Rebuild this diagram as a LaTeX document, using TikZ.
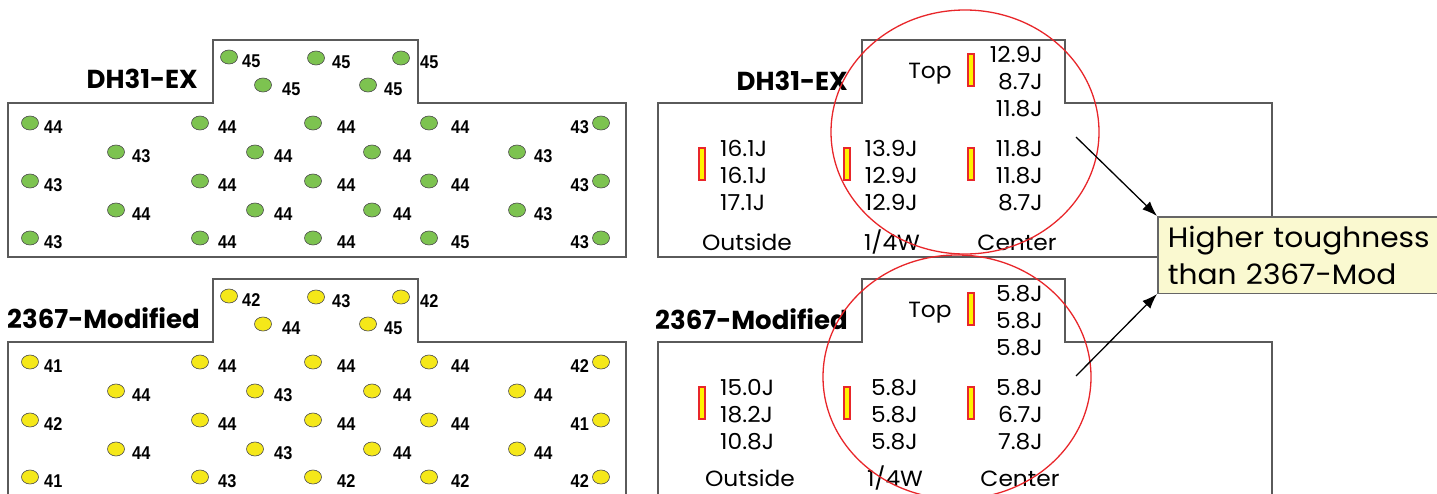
\documentclass[tikz,border=0pt]{standalone}
\usepackage{fontspec}
\setmainfont{Poppins}
\newfontfamily\numfont[FakeStretch=0.88]{Liberation Sans}
\newfontfamily\valfont[FakeStretch=1.06]{Poppins}
\usetikzlibrary{shapes.geometric,arrows.meta}
\definecolor{dotgreen}{RGB}{125,195,80}
\definecolor{dotyellow}{RGB}{245,232,25}
\definecolor{ringred}{RGB}{232,38,42}
\definecolor{notefill}{RGB}{250,249,208}
\definecolor{edgegray}{RGB}{90,90,90}
\begin{document}
\begin{tikzpicture}
    [
    x=1pt, y=-1pt,
    panel/.style={draw=edgegray, line width=1.1pt},
    spot/.style={ellipse, draw=black!70, line width=0.6pt, inner sep=0pt, minimum width=17pt, minimum height=14pt},
    num/.style={inner sep=0pt, font=\numfont\bfseries\fontsize{18.5}{18.5}\selectfont, anchor=base west},
    title/.style={inner sep=0pt, font=\bfseries\fontsize{26}{26}\selectfont, anchor=base east},
    val/.style={inner sep=0pt, font=\valfont\fontsize{22}{22}\selectfont},
    bar/.style={rectangle, draw=ringred, fill=yellow, line width=1.2pt, inner sep=0pt, minimum width=6pt, minimum height=32pt},
    ring/.style={draw=ringred, line width=1.3pt},
    note/.style={rectangle, draw=black!60, line width=1.5pt, fill=notefill, align=left, text width=300pt, inner xsep=10pt, inner ysep=9pt, font=\valfont\fontsize{28}{37}\selectfont},
    pointer/.style={line width=1.3pt, -{Latex[length=15pt,width=11pt]}}
    ]
    \useasboundingbox (0,0) rectangle (1437,493);
    \clip (0,0) rectangle (1437,493);

    % left: test plate maps
    \draw [panel] (8,257) -- (8,103) -- (213,103) -- (213,40) -- (418,40) -- (418,103) -- (626,103) -- (626,257) -- cycle;
    \draw [panel] (8,500) -- (8,342) -- (213,342) -- (213,279) -- (418,279) -- (418,342) -- (626,342) -- (626,500);
    \node [title] (ldh) at (198,88) {DH31-EX};
    \node [title] (lmod) at (200,328) {2367-Modified};

    \foreach \n/\px/\py/\lx/\v in {1/229/57/242/45, 2/316/58/332/45, 3/401/58/420/45, 4/263/85/282/45, 5/368/85/384/45,
      6/30/123/44/44, 7/200/123/218/44, 8/313/123/337/44, 9/429/123/451/44,
      10/116/152/132/43, 11/255/152/274/44, 12/372/152/393/44, 13/517/152/534/43,
      14/30/181/44/43, 15/200/181/218/44, 16/313/181/337/44, 17/429/181/451/44,
      18/116/210/132/44, 19/255/210/274/44, 20/372/210/393/44, 21/517/210/534/43,
      22/30/238/44/43, 23/200/238/218/44, 24/313/238/337/44, 25/429/238/451/45}
    {
      \node [spot, fill=dotgreen] (g\n) at (\px,\py) {};
      \node [num] (g\n v) at (\lx,\py+10) {\v};
    }
    \foreach \n/\py/\v in {26/123/43, 27/181/43, 28/238/43}
    {
      \node [spot, fill=dotgreen] (g\n) at (601,\py) {};
      \node [num, anchor=base east] (g\n v) at (589,\py+10) {\v};
    }

    \foreach \n/\px/\py/\lx/\v in {1/229/296/242/42, 2/316/297/332/43, 3/401/297/420/42, 4/263/324/282/44, 5/368/324/384/45,
      6/30/362/44/41, 7/200/362/218/44, 8/313/362/337/44, 9/429/362/451/44,
      10/116/391/132/44, 11/255/391/274/43, 12/372/391/393/44, 13/517/391/534/44,
      14/30/420/44/42, 15/200/420/218/44, 16/313/420/337/44, 17/429/420/451/44,
      18/116/449/132/44, 19/255/449/274/43, 20/372/449/393/44, 21/517/449/534/44,
      22/30/477/44/41, 23/200/477/218/43, 24/313/477/337/42, 25/429/477/451/42}
    {
      \node [spot, fill=dotyellow] (y\n) at (\px,\py) {};
      \node [num] (y\n v) at (\lx,\py+10) {\v};
    }
    \foreach \n/\py/\v in {26/362/42, 27/420/41, 28/477/42}
    {
      \node [spot, fill=dotyellow] (y\n) at (601,\py) {};
      \node [num, anchor=base east] (y\n v) at (589,\py+10) {\v};
    }

    % right: impact energies
    \draw [panel] (658,257) -- (658,103) -- (862,103) -- (862,40) -- (1065,40) -- (1065,103) -- (1272,103) -- (1272,257) -- cycle;
    \node [title] (rdh) at (848,90) {DH31-EX};
    \node [val, anchor=base] (rdhtop) at (930,78) {Top};
    \node [bar] (rdhb1) at (971,70) {};
    \node [bar] (rdhb2) at (702,164) {};
    \node [bar] (rdhb3) at (847,164) {};
    \node [bar] (rdhb4) at (971,164) {};
    \node [val, anchor=base east] (rdht1) at (1043,62) {12.9J};
    \node [val, anchor=base east] (rdht2) at (1043,89) {8.7J};
    \node [val, anchor=base east] (rdht3) at (1043,116) {11.8J};
    \node [val, anchor=base west] (rdho1) at (720,156) {16.1J};
    \node [val, anchor=base west] (rdho2) at (720,183) {16.1J};
    \node [val, anchor=base west] (rdho3) at (720,210) {17.1J};
    \node [val, anchor=base east] (rdhq1) at (918,156) {13.9J};
    \node [val, anchor=base east] (rdhq2) at (918,183) {12.9J};
    \node [val, anchor=base east] (rdhq3) at (918,210) {12.9J};
    \node [val, anchor=base east] (rdhc1) at (1043,156) {11.8J};
    \node [val, anchor=base east] (rdhc2) at (1043,183) {11.8J};
    \node [val, anchor=base east] (rdhc3) at (1043,210) {8.7J};
    \node [val, anchor=base] (rdhout) at (747,250) {Outside};
    \node [val, anchor=base] (rdhqw) at (892,250) {1/4W};
    \node [val, anchor=base] (rdhcen) at (1017,250) {Center};

    \begin{scope}[shift={(0,239)}]
    \draw [panel] (658,270) -- (658,103) -- (862,103) -- (862,40) -- (1065,40) -- (1065,103) -- (1272,103) -- (1272,270);
    \node [title] (rmod) at (848,90) {2367-Modified};
    \node [val, anchor=base] (rmodtop) at (930,78) {Top};
    \node [bar] (rmodb1) at (971,70) {};
    \node [bar] (rmodb2) at (702,164) {};
    \node [bar] (rmodb3) at (847,164) {};
    \node [bar] (rmodb4) at (971,164) {};
    \node [val, anchor=base east] (rmodt1) at (1043,62) {5.8J};
    \node [val, anchor=base east] (rmodt2) at (1043,89) {5.8J};
    \node [val, anchor=base east] (rmodt3) at (1043,116) {5.8J};
    \node [val, anchor=base west] (rmodo1) at (720,156) {15.0J};
    \node [val, anchor=base west] (rmodo2) at (720,183) {18.2J};
    \node [val, anchor=base west] (rmodo3) at (720,210) {10.8J};
    \node [val, anchor=base east] (rmodq1) at (918,156) {5.8J};
    \node [val, anchor=base east] (rmodq2) at (918,183) {5.8J};
    \node [val, anchor=base east] (rmodq3) at (918,210) {5.8J};
    \node [val, anchor=base east] (rmodc1) at (1043,156) {5.8J};
    \node [val, anchor=base east] (rmodc2) at (1043,183) {6.7J};
    \node [val, anchor=base east] (rmodc3) at (1043,210) {7.8J};
    \node [val, anchor=base] (rmodout) at (750,247) {Outside};
    \node [val, anchor=base] (rmodqw) at (895,247) {1/4W};
    \node [val, anchor=base] (rmodcen) at (1020,247) {Center};
    \end{scope}

    \draw [ring] (965,132) ellipse [x radius=134pt, y radius=122pt];
    \draw [ring] (957,377) ellipse [x radius=134pt, y radius=122pt];

    \node [note, anchor=north west] (note) at (1157,216) {Higher toughness\\than 2367-Mod};
    \coordinate (from1) at (1076,137);
    \coordinate (from2) at (1076,376);
    \draw [pointer] (from1) -- (note.north west);
    \draw [pointer] (from2) -- (note.south west);
  \end{tikzpicture}
\end{document}
